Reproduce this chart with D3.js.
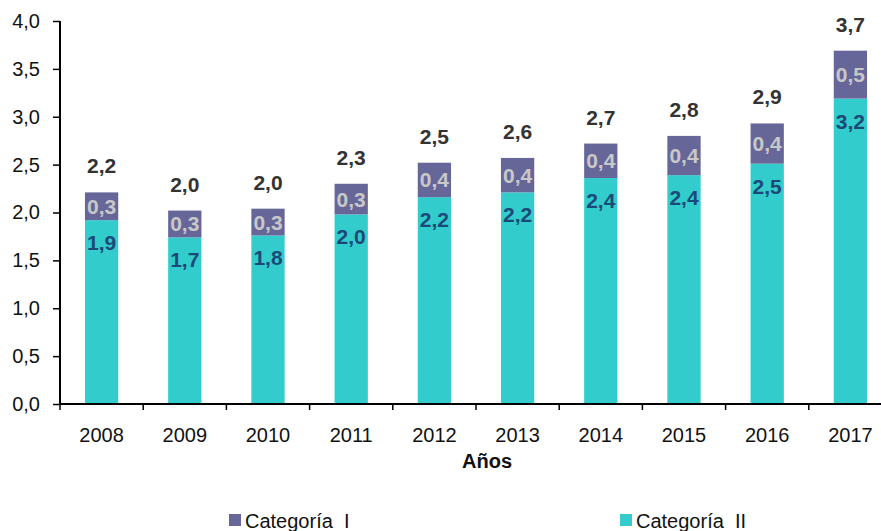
<!DOCTYPE html>
<html>
<head>
<meta charset="utf-8">
<script src="https://cdn.jsdelivr.net/npm/d3@7"></script>
<style>
  html, body { margin: 0; padding: 0; background: #fff; }
  svg { display: block; font-family: Arial, "Liberation Sans", sans-serif; }
</style>
</head>
<body>
<svg id="chart" width="881" height="531"></svg>
<script>
const years = ["2008","2009","2010","2011","2012","2013","2014","2015","2016","2017"];
const catII = [1.92, 1.74, 1.76, 1.98, 2.16, 2.21, 2.36, 2.39, 2.51, 3.19];
const catI  = [0.29, 0.28, 0.28, 0.32, 0.36, 0.36, 0.36, 0.41, 0.42, 0.50];
const yTicks = [0, 0.5, 1.0, 1.5, 2.0, 2.5, 3.0, 3.5, 4.0];
const seriesNames = ["Categoría  I", "Categoría  II"];
const colors = { catI: "#666699", catII: "#33CCCC" };

const svg = d3.select("#chart");
const fmt = v => d3.format(".1f")(v).replace(".", ",");

const x = d3.scaleBand().domain(years).range([60, 892]).paddingInner(0.6).paddingOuter(0.3);
const y = d3.scaleLinear().domain([0, 4]).range([404, 21]);

const data = years.map((yr, i) => ({ year: yr, a: catII[i], b: catI[i], total: catII[i] + catI[i] }));

// bars
const g = svg.append("g");
g.selectAll("rect.c2").data(data).join("rect")
  .attr("x", d => x(d.year)).attr("width", x.bandwidth())
  .attr("y", d => y(d.a)).attr("height", d => y(0) - y(d.a))
  .attr("fill", colors.catII);
g.selectAll("rect.c1").data(data).join("rect")
  .attr("x", d => x(d.year)).attr("width", x.bandwidth())
  .attr("y", d => y(d.total)).attr("height", d => y(d.a) - y(d.total))
  .attr("fill", colors.catI);

// labels
const cx = d => x(d.year) + x.bandwidth() / 2;
g.selectAll("text.tot").data(data).join("text")
  .attr("x", cx).attr("y", d => y(d.total) - 19)
  .attr("text-anchor", "middle").attr("font-size", 21).attr("font-weight", "bold")
  .attr("fill", "#333333").text(d => fmt(d.total));
g.selectAll("text.l1").data(data).join("text")
  .attr("x", cx).attr("y", d => (y(d.total) + y(d.a)) / 2 + 7.5)
  .attr("text-anchor", "middle").attr("font-size", 21).attr("font-weight", "bold")
  .attr("fill", "#C8C8C8").text(d => fmt(d.b));
g.selectAll("text.l2").data(data).join("text")
  .attr("x", cx).attr("y", d => y(d.a) + 30)
  .attr("text-anchor", "middle").attr("font-size", 21).attr("font-weight", "bold")
  .attr("fill", "#1B4A78").text(d => fmt(d.a));

// y axis
const yAxis = svg.append("g").attr("transform", "translate(60,0)")
  .call(d3.axisLeft(y).tickValues(yTicks).tickSize(7).tickPadding(13).tickFormat(fmt));
yAxis.select(".domain").attr("stroke", "#000").attr("stroke-width", 2).attr("d", `M0,${y(4)}V${y(0)}`);
yAxis.selectAll(".tick line").attr("stroke", "#000").attr("stroke-width", 1.5);
yAxis.selectAll(".tick text").attr("font-size", 20).attr("fill", "#111").attr("font-family", "Arial, 'Liberation Sans', sans-serif");

// x axis
const xg = svg.append("g");
xg.append("line").attr("x1", 59).attr("x2", 892).attr("y1", y(0)).attr("y2", y(0))
  .attr("stroke", "#000").attr("stroke-width", 2);
const bounds = years.map(yr => x(yr) + x.bandwidth() / 2 - x.step() / 2);
xg.selectAll("line.tk").data(bounds).join("line")
  .attr("x1", d => d).attr("x2", d => d).attr("y1", y(0)).attr("y2", y(0) + 6)
  .attr("stroke", "#000").attr("stroke-width", 1.5);
xg.selectAll("text.yr").data(years).join("text")
  .attr("x", d => x(d) + x.bandwidth() / 2).attr("y", 442)
  .attr("text-anchor", "middle").attr("font-size", 20).attr("fill", "#111").text(d => d);
svg.append("text").attr("x", 487).attr("y", 468).attr("text-anchor", "middle")
  .attr("font-size", 20).attr("font-weight", "bold").attr("fill", "#111").text("Años");

// legend
const legend = [
  { name: seriesNames[0], color: colors.catI, x: 229 },
  { name: seriesNames[1], color: colors.catII, x: 620 }
];
const lg = svg.append("g");
lg.selectAll("rect").data(legend).join("rect")
  .attr("x", d => d.x).attr("y", 514).attr("width", 12).attr("height", 12).attr("fill", d => d.color);
lg.selectAll("text").data(legend).join("text")
  .attr("x", d => d.x + 16).attr("y", 528).attr("font-size", 20).attr("fill", "#111")
  .style("white-space", "pre").text(d => d.name);
</script>
</body>
</html>
